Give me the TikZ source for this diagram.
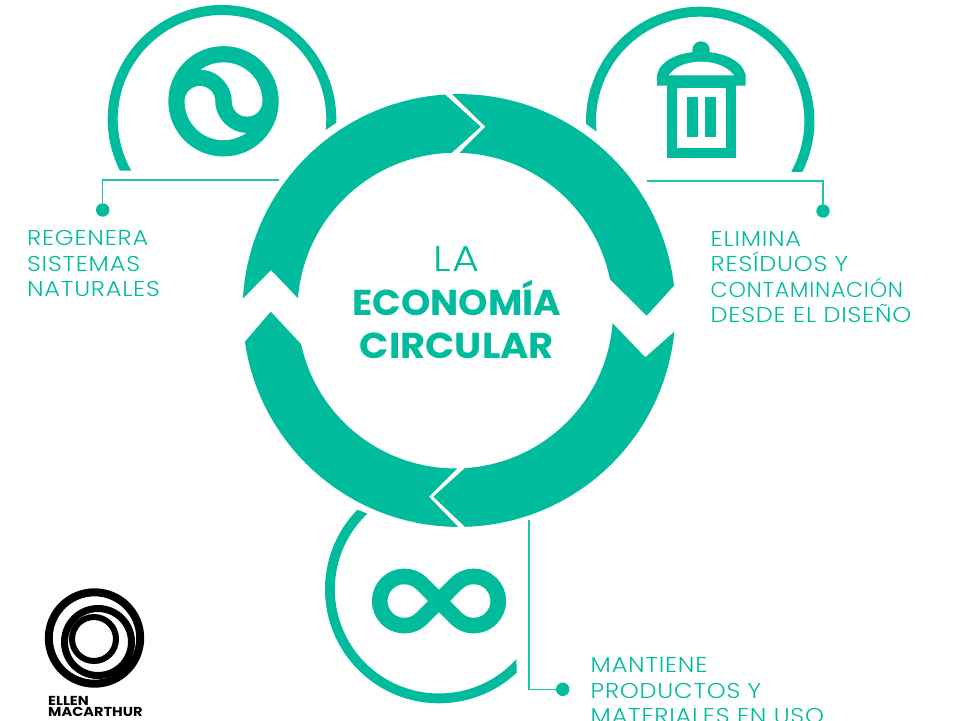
\documentclass[tikz,border=0pt]{standalone}
\usepackage{fontspec}
\setmainfont{Poppins}
\newfontfamily\lightf[FakeStretch=1.12,LetterSpace=3.6]{Poppins Light}
\newfontfamily\lighttitle[FakeStretch=1.15,LetterSpace=6]{Poppins Light}
\newfontfamily\boldf[FakeStretch=1.07]{Poppins Bold}
\newfontfamily\logof[FakeStretch=1.12]{Poppins Bold}
\definecolor{teal1}{HTML}{00BC9D}
\definecolor{teal2}{HTML}{1CC3A7}
\tikzset{
  shapefill/.style={fill=teal1,draw=none},
  lead/.style={draw=teal2,line width=1.3pt,line join=miter},
  dotnode/.style={circle,fill=teal1,minimum size=13.4pt,inner sep=0pt,draw=none},
  lbl/.style={anchor=north west,inner sep=0pt,align=left,text=teal1,font=\lightf\fontsize{21.5}{25.5}\selectfont},
  title/.style={anchor=base,inner sep=0pt,text=teal1},
  logotext/.style={anchor=base west,inner sep=0pt,text=black,font=\logof\fontsize{13}{13}\selectfont}
}
\newcommand{\Ro}{216.4pt}
\newcommand{\Ri}{157.8pt}
\begin{document}
\begin{tikzpicture}[x=1pt,y=-1pt]
\useasboundingbox (0,0) rectangle (960,720);
\fill[white] (0,0) rectangle (960,720);
\coordinate (oc) at (459,310.5);
\coordinate (ic) at (455.3,310.6);
% ring
\fill[shapefill] ([shift={(176.8:\Ro)}]oc) arc[start angle=176.8,end angle=93.7,radius=\Ro] -- (480.7,126.7) -- ([shift={(91.3:\Ri)}]ic) arc[start angle=91.3,end angle=175.5,radius=\Ri] -- (271,270) -- cycle;
\fill[shapefill] ([shift={(91.8:\Ro)}]oc) arc[start angle=91.8,end angle=6.6,radius=\Ro] -- (646.7,315.7) -- ([shift={(11.4:\Ri)}]ic) arc[start angle=11.4,end angle=88.5,radius=\Ri] -- (485.3,126.7) -- cycle;
\fill[shapefill] ([shift={(-5.6:\Ro)}]oc) arc[start angle=-5.6,end angle=-88.4,radius=\Ro] -- (433.3,496.7) -- ([shift={(-86.5:\Ri)}]ic) arc[start angle=-86.5,end angle=-4.6,radius=\Ri] -- (645.3,357.3) -- cycle;
\fill[shapefill] ([shift={(188.3:\Ro)}]oc) arc[start angle=188.3,end angle=269.8,radius=\Ro] -- (429,496.7) -- ([shift={(270.7:\Ri)}]ic) arc[start angle=270.7,end angle=192.3,radius=\Ri] -- (270.7,311.7) -- cycle;
% outer arcs
\coordinate (cl) at (222,119.3);
\fill[shapefill] ([shift={(206.7:114.3pt)}]cl) arc[start angle=206.7,end angle=-1.7,radius=114.3pt] -- ([shift={(-5.9:104.3pt)}]cl) arc[start angle=-5.9,end angle=209.4,radius=104.3pt] -- cycle;
\coordinate (cr) at (700.2,120.9);
\fill[shapefill] ([shift={(181.5:114.2pt)}]cr) arc[start angle=181.5,end angle=-26.5,radius=114.2pt] -- ([shift={(-29.2:104.2pt)}]cr) arc[start angle=-29.2,end angle=185.9,radius=104.2pt] -- cycle;
\coordinate (cb) at (439,589.3);
\fill[shapefill] ([shift={(135.7:114pt)}]cb) arc[start angle=135.7,end angle=313,radius=114pt] -- ([shift={(317.9:104.2pt)}]cb) arc[start angle=317.9,end angle=133.4,radius=104.2pt] -- cycle;
% swirl icon
\coordinate (sw) at (223.5,101.3);
\fill[shapefill] (sw) circle[radius=55.2pt];
\fill[white] ([shift={(125.7:38.9pt)}]sw) arc[start angle=125.7,end angle=0,radius=38.9pt] arc[start angle=0,end angle=-180,radius=15.3pt] .. controls (231.7,85) and (218,70) .. cycle;
\fill[white,rotate around={180:(sw)}] ([shift={(125.7:38.9pt)}]sw) arc[start angle=125.7,end angle=0,radius=38.9pt] arc[start angle=0,end angle=-180,radius=15.3pt] .. controls (231.7,85) and (218,70) .. cycle;
% bin icon
\fill[shapefill] (701,50) circle[radius=8.7pt];
\fill[shapefill] (657,85.7) -- (657,75) .. controls (660,60) and (680,51.7) .. (701,51.7) .. controls (722,51.7) and (742,60) .. (745.7,75) -- (745.7,85.7) -- cycle;
\fill[white] (668.7,75.3) .. controls (675,66) and (688,61.7) .. (701,61.7) .. controls (714,61.7) and (727,66) .. (734,75.3) -- cycle;
\fill[shapefill] (667,85) rectangle (735.7,158.3);
\fill[white] (677,88.3) rectangle (725.7,148.3);
\fill[shapefill] (687,97) rectangle (697.7,136.7);
\fill[shapefill] (705,97) rectangle (715.7,136.7);
% infinity icon
\coordinate (ix) at (439,601);
\coordinate (il) at (404.3,601);
\coordinate (ir) at (473.7,601);
\draw[teal1,line width=15.6pt,line join=miter] ([shift={(135.8:24.6pt)}]ir) arc[start angle=135.8,end angle=-135.8,radius=24.6pt] -- ([shift={(44.2:24.6pt)}]il) arc[start angle=44.2,end angle=315.8,radius=24.6pt] -- cycle;
% connectors
\node[dotnode] (dl) at (102.7,210) {};
\node[dotnode] (dr) at (823,211) {};
\node[dotnode] (db) at (562.7,689.3) {};
\coordinate (el) at (279,180);
\coordinate (er) at (647,181);
\coordinate (eb) at (529,520);
\draw[lead] (el) -| (dl);
\draw[lead] (er) -| (dr);
\draw[lead] (eb) |- (db);
% labels
\node[lbl] (t1) at (27,230.5) {REGENERA\\SISTEMAS\\NATURALES};
\node[lbl] (t2) at (710.5,231) {ELIMINA\\RESÍDUOS Y\\\scalebox{0.92}[1]{CONTAMINACIÓN}\\DESDE EL DISEÑO};
\node[lbl] (t3) at (590.5,657.5) {MANTIENE\\PRODUCTOS Y\\MATERIALES EN USO};
\node[title,font=\lighttitle\fontsize{36}{36}\selectfont] (c1) at (456.5,271.5) {LA};
\node[title,font=\boldf\fontsize{36}{36}\selectfont] (c2) at (457,315) {\scalebox{0.972}[1]{ECONOMÍA}};
\node[title,font=\boldf\fontsize{36}{36}\selectfont] (c3) at (456.8,358.3) {CIRCULAR};
% logo
\coordinate (lg) at (94.5,638);
\draw[black,line width=8pt] (lg) circle[radius=45.7pt];
\draw[black,line width=7pt] (98,642) circle[radius=33.5pt];
\draw[black,line width=6pt] (94,639) circle[radius=22pt];
\node[logotext] (l1) at (48,705) {ELLEN};
\node[logotext] (l2) at (48,716.5) {MACARTHUR};
\end{tikzpicture}
\end{document}
